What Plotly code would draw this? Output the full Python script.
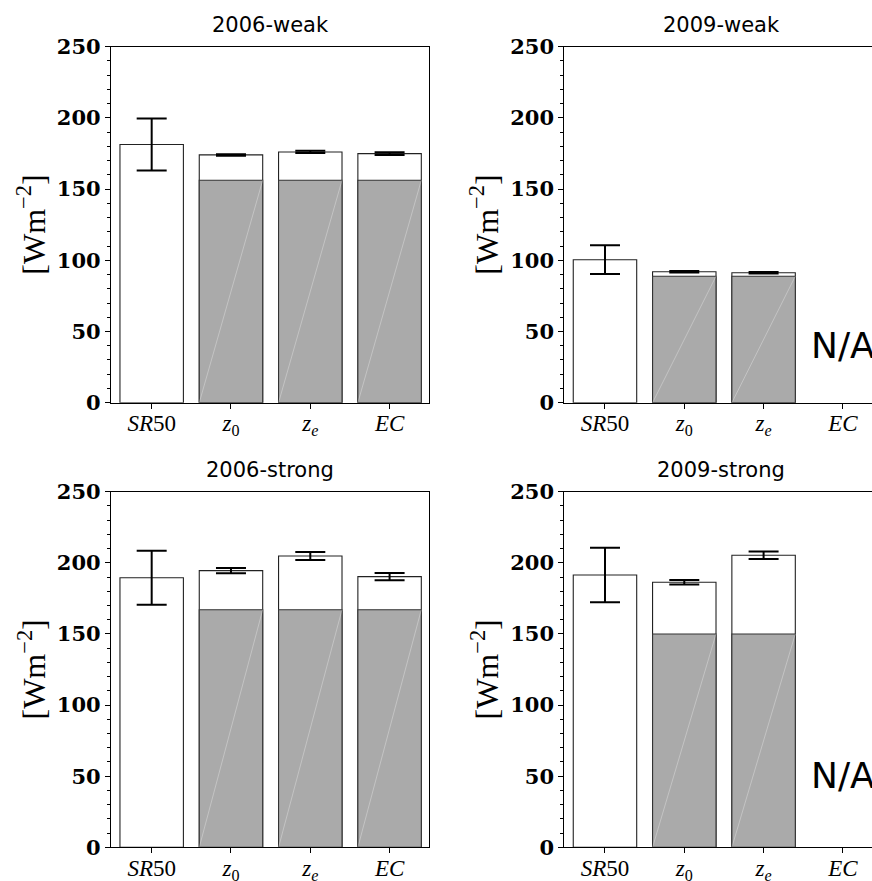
import plotly.graph_objects as go

categories = ["SR50", "z0", "ze", "EC"]
tick_labels = ["<i>SR</i>50", "<i>z</i><sub>0</sub>", "<i>z</i><sub><i>e</i></sub>", "<i>EC</i>"]
panel_titles = ["2006-weak", "2009-weak", "2006-strong", "2009-strong"]

# total flux (white bar) and its error
total_2006_weak = [181.3, 174.0, 176.1, 174.9]
err_2006_weak = [18.2, 0.5, 0.8, 0.9]
base_2006_weak = [None, 156.2, 156.2, 156.2]

total_2009_weak = [100.4, 92.0, 91.3, None]
err_2009_weak = [10.1, 0.5, 0.5, None]
base_2009_weak = [None, 88.8, 88.8, None]

total_2006_strong = [189.5, 194.5, 204.8, 190.3]
err_2006_strong = [19.0, 1.9, 2.8, 2.5]
base_2006_strong = [None, 167.0, 167.0, 167.0]

total_2009_strong = [191.4, 186.3, 205.3, None]
err_2009_strong = [19.2, 1.6, 2.7, None]
base_2009_strong = [None, 150.0, 150.0, None]

na_labels = [None, "N/A", None, "N/A"]
na_y = [None, 40.5, None, 50.5]

totals = [total_2006_weak, total_2009_weak, total_2006_strong, total_2009_strong]
errs = [err_2006_weak, err_2009_weak, err_2006_strong, err_2009_strong]
bases = [base_2006_weak, base_2009_weak, base_2006_strong, base_2009_strong]

W, H = 872, 881
BAR_W = 0.8
# pixel geometry of panels (left, right, top, bottom)
panels_px = [
    (111, 429, 46.7, 402.7),
    (564.3, 872, 46.7, 402.7),
    (111, 429, 491.7, 847.3),
    (564.3, 872, 491.7, 847.3),
]
xranges = [[-0.513, 3.497], [-0.513, 3.367], [-0.513, 3.497], [-0.513, 3.367]]
title_cx = [270, 721, 270, 721]
title_cy = [24.5, 24.5, 469.5, 469.5]
ytitle_cx = [31, 484, 31, 484]

SERIF = "Liberation Serif, Times New Roman, serif"

fig = go.Figure()
annotations = []
shapes = []
for i in range(4):
    ax = "" if i == 0 else str(i + 1)
    xref = "x" + ax
    yref = "y" + ax
    fig.add_trace(go.Bar(
        x=categories, y=totals[i], width=BAR_W,
        marker=dict(color="white", line=dict(color="#222", width=1.1)),
        error_y=dict(type="data", array=errs[i], visible=True, color="black",
                     thickness=2, width=15),
        xaxis=xref, yaxis=yref, showlegend=False,
    ))
    fig.add_trace(go.Bar(
        x=categories, y=bases[i], width=BAR_W,
        marker=dict(color="#aaaaaa", line=dict(color="#333", width=1.1)),
        xaxis=xref, yaxis=yref, showlegend=False,
    ))
    # faint single hatch stroke across each grey bar (corner to corner)
    for k, v in enumerate(bases[i]):
        if v is None:
            continue
        shapes.append(dict(
            type="line", xref=xref, yref=yref,
            x0=k - BAR_W / 2, y0=0, x1=k + BAR_W / 2, y1=v,
            line=dict(color="rgba(255,255,255,0.3)", width=1), layer="above",
        ))
    l, r, t, b = panels_px[i]
    right_panel = i % 2 == 1
    xa = dict(
        domain=[l / W, r / W], range=xranges[i], anchor=yref, automargin=False,
        tickmode="array", tickvals=categories, ticktext=tick_labels,
        ticks="outside", ticklen=5, tickwidth=1, tickcolor="black",
        ticklabelstandoff=-5,
        showline=True, linecolor="black", linewidth=1.2, mirror=True,
        showgrid=False, zeroline=False,
        tickfont=dict(family=SERIF, size=23, color="black"),
    )
    ya = dict(
        domain=[1 - b / H, 1 - t / H], range=[0, 250], anchor=xref, automargin=False,
        tickvals=[0, 50, 100, 150, 200, 250],
        ticks="outside", ticklen=5, tickwidth=1, tickcolor="black",
        minor=dict(dtick=10, ticks="outside", ticklen=3, tickcolor="black", tickwidth=1),
        showline=True, linecolor="black", linewidth=1.2, mirror=not right_panel,
        showgrid=False, zeroline=False,
        tickfont=dict(family="DejaVu Serif", size=21, color="black", weight="bold"),
    )
    fig.update_layout(**{"xaxis" + ax: xa, "yaxis" + ax: ya})
    annotations.append(dict(
        text=panel_titles[i], x=title_cx[i] / W, y=1 - title_cy[i] / H,
        xref="paper", yref="paper", xanchor="center", yanchor="middle",
        showarrow=False, font=dict(family="DejaVu Sans", size=21, color="black"),
    ))
    annotations.append(dict(
        text="[Wm<sup>\u22122</sup>]", x=ytitle_cx[i] / W, y=1 - (t + b) / 2 / H,
        xref="paper", yref="paper", xanchor="center", yanchor="middle",
        textangle=-90, showarrow=False,
        font=dict(family=SERIF, size=32, color="black"),
    ))
    if na_labels[i]:
        annotations.append(dict(
            text=na_labels[i], x="EC", y=na_y[i], xref=xref, yref=yref,
            xanchor="center", yanchor="middle", showarrow=False,
            font=dict(family="DejaVu Sans", size=36, color="black"),
        ))

fig.update_layout(
    template="none",
    width=W, height=H, margin=dict(l=0, r=0, t=0, b=0, autoexpand=False),
    barmode="overlay", plot_bgcolor="white", paper_bgcolor="white",
    annotations=annotations, shapes=shapes,
)
fig.write_html("out.html")
